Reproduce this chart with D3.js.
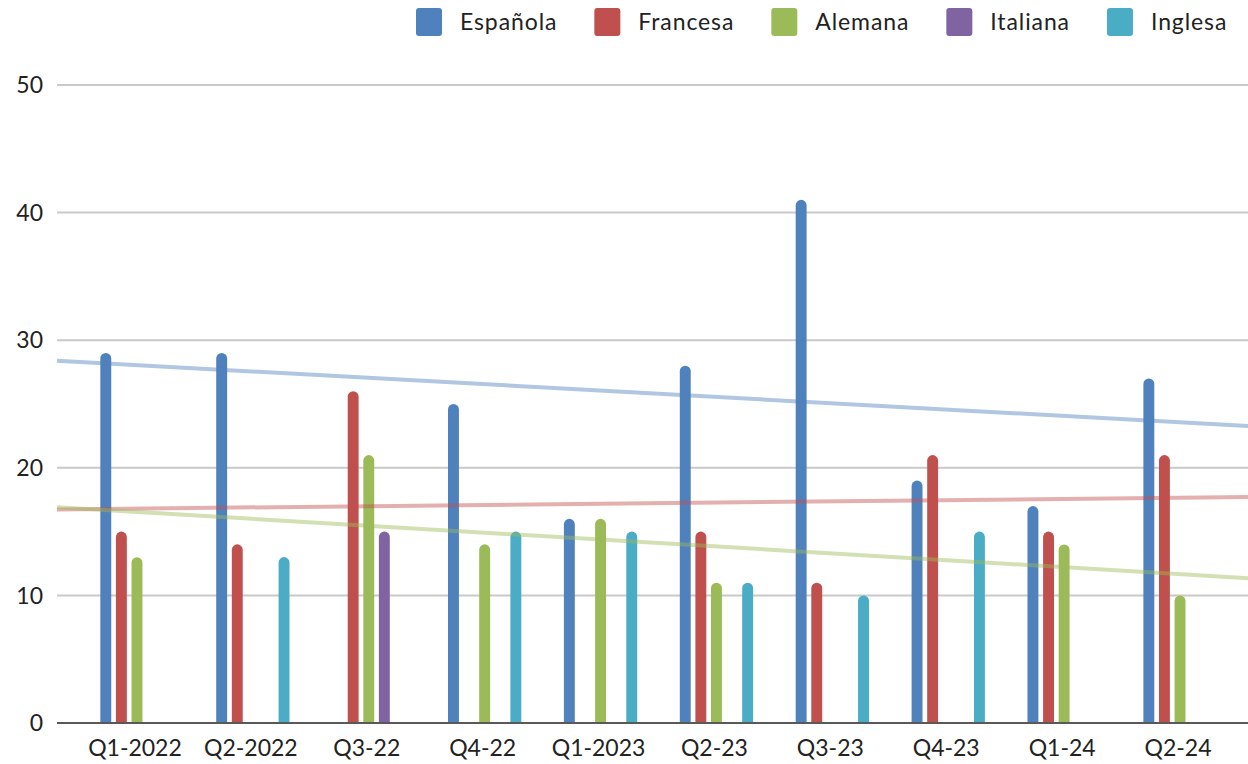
<!DOCTYPE html>
<html>
<head>
<meta charset="utf-8">
<script src="https://cdn.jsdelivr.net/npm/d3@7"></script>
<style>
  body { margin: 0; background: #fff; }
  text { font-family: Lato, "Open Sans", sans-serif; fill: #222; }
</style>
</head>
<body>
<div id="chart"></div>
<script>
// data
var quarters = ["Q1-2022", "Q2-2022", "Q3-22", "Q4-22", "Q1-2023", "Q2-23", "Q3-23", "Q4-23", "Q1-24", "Q2-24"];
var seriesNames = ["Española", "Francesa", "Alemana", "Italiana", "Inglesa"];
var seriesColors = ["#4F81BD", "#C0504D", "#9BBB59", "#8064A2", "#4BACC6"];
// null = no bar for that quarter
var espanola = [29, 29, null, 25, 16, 28, 41, 19, 17, 27];
var francesa = [15, 14, 26, null, null, 15, 11, 21, 15, 21];
var alemana  = [13, null, 21, 14, 16, 11, null, null, 14, 10];
var italiana = [null, null, 15, null, null, null, null, null, null, null];
var inglesa  = [null, 13, null, 15, 15, 11, 10, 15, null, null];
var yTicks = [0, 10, 20, 30, 40, 50];
var trendSeries = [0, 1, 2]; // Española, Francesa, Alemana have linear trendlines

var values = [espanola, francesa, alemana, italiana, inglesa];

var width = 1248, height = 764;
var plotLeft = 57, plotRight = 1260;

var svg = d3.select("#chart")
  .append("svg")
    .attr("width", width)
    .attr("height", height);

var x = d3.scaleBand()
  .domain(quarters)
  .range([plotLeft, plotRight])
  .paddingInner(0)
  .paddingOuter(0.19);

var xSub = d3.scaleBand()
  .domain(d3.range(seriesNames.length))
  .range([0, 73.3])
  .paddingInner(0.3);

var y = d3.scaleLinear()
  .domain([0, 50])
  .range([723, 85]);

// gridlines
svg.append("g")
  .selectAll("line")
  .data(yTicks.filter(function(d) { return d > 0; }))
  .enter()
  .append("line")
    .attr("x1", plotLeft)
    .attr("x2", plotRight)
    .attr("y1", function(d) { return y(d); })
    .attr("y2", function(d) { return y(d); })
    .attr("stroke", "#c9c9c9")
    .attr("stroke-width", 2);

// y labels
svg.append("g")
  .selectAll("text")
  .data(yTicks)
  .enter()
  .append("text")
    .attr("x", 43)
    .attr("y", function(d) { return y(d); })
    .attr("dy", "0.36em")
    .attr("text-anchor", "end")
    .style("font-size", "23px")
    .text(function(d) { return d; });

// bars
var bars = [];
values.forEach(function(arr, s) {
  arr.forEach(function(v, i) {
    if (v != null) bars.push({s: s, q: quarters[i], v: v});
  });
});

var groupW = 73.3;
function barPath(d) {
  var w = xSub.bandwidth(), r = w / 2;
  var x0 = x(d.q) + x.bandwidth() / 2 - groupW / 2 + xSub(d.s);
  var y0 = y(0), yt = y(d.v);
  return "M" + x0 + "," + y0 +
    "V" + (yt + r) +
    "A" + r + "," + r + " 0 0 1 " + (x0 + w) + "," + (yt + r) +
    "V" + y0 + "Z";
}

svg.append("g")
  .selectAll("path")
  .data(bars)
  .enter()
  .append("path")
    .attr("d", barPath)
    .attr("fill", function(d) { return seriesColors[d.s]; });

// x axis line
svg.append("line")
  .attr("x1", plotLeft)
  .attr("x2", plotRight)
  .attr("y1", y(0))
  .attr("y2", y(0))
  .attr("stroke", "#595959")
  .attr("stroke-width", 2);

// x labels
svg.append("g")
  .selectAll("text")
  .data(quarters)
  .enter()
  .append("text")
    .attr("x", function(d) { return x(d) + x.bandwidth() / 2 - 2; })
    .attr("y", 756)
    .attr("text-anchor", "middle")
    .style("font-size", "23px")
    .text(function(d) { return d; });

// linear trendlines (least squares over the quarters that have a value)
var c0 = x(quarters[0]) + x.bandwidth() / 2;
var step = x.step();
function toIdx(px) { return 1 + (px - c0) / step; }

trendSeries.forEach(function(s) {
  var pts = [];
  values[s].forEach(function(v, i) { if (v != null) pts.push([i + 1, v]); });
  var mx = d3.mean(pts, function(p) { return p[0]; });
  var my = d3.mean(pts, function(p) { return p[1]; });
  var sxy = d3.sum(pts, function(p) { return (p[0] - mx) * (p[1] - my); });
  var sxx = d3.sum(pts, function(p) { return (p[0] - mx) * (p[0] - mx); });
  var slope = sxy / sxx, icpt = my - slope * mx;
  var ends = [plotLeft, plotRight].map(function(px) {
    return [px, y(icpt + slope * toIdx(px))];
  });
  svg.append("path")
    .attr("d", d3.line()(ends))
    .attr("stroke", seriesColors[s])
    .attr("stroke-opacity", 0.45)
    .attr("stroke-width", 4)
    .attr("fill", "none");
});

// legend
var legend = svg.append("g");
var lx = 416;
seriesNames.forEach(function(name, s) {
  var g = legend.append("g").attr("transform", "translate(" + lx + ",0)");
  g.append("rect")
    .attr("x", 0).attr("y", 8)
    .attr("width", 26).attr("height", 28)
    .attr("rx", 3)
    .attr("fill", seriesColors[s]);
  var t = g.append("text")
    .attr("x", 44).attr("y", 22)
    .attr("dy", "0.36em")
    .style("font-size", "23px")
    .style("letter-spacing", "0.9px")
    .text(name);
  lx += 44 + t.node().getComputedTextLength() + 37;
});
</script>
</body>
</html>
